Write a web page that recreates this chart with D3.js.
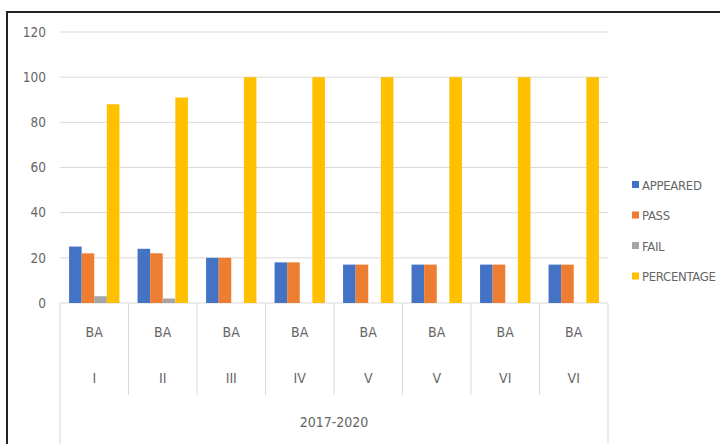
<!DOCTYPE html>
<html>
<head>
<script src="https://cdn.jsdelivr.net/npm/d3@7/dist/d3.min.js"></script>
<style>
  body { margin: 0; background: #fff; }
</style>
</head>
<body>
<div id="chart"></div>
<script>
var semesters = ["I", "II", "III", "IV", "V", "V", "VI", "VI"];
var course = "BA";
var period = "2017-2020";
var series = ["APPEARED", "PASS", "FAIL", "PERCENTAGE"];
var colors = ["#4472C4", "#ED7D31", "#A5A5A5", "#FFC000"];
var appeared = [25, 24, 20, 18, 17, 17, 17, 17];
var pass = [22, 22, 20, 18, 17, 17, 17, 17];
var fail = [3, 2, 0, 0, 0, 0, 0, 0];
var percentage = [88, 91, 100, 100, 100, 100, 100, 100];
var yTicks = [0, 20, 40, 60, 80, 100, 120];

var values = [appeared, pass, fail, percentage];
var W = 720, H = 444;
var font = "'DejaVu Sans Condensed', 'Liberation Sans Narrow', Arial, sans-serif";
var txt = "#666";

var svg = d3.select("#chart").append("svg")
  .attr("width", W).attr("height", H)
  .style("font-family", font);

// outer frame
svg.append("rect")
  .attr("x", 7).attr("y", 12)
  .attr("width", 730).attr("height", 450)
  .attr("fill", "none").attr("stroke", "#222").attr("stroke-width", 2);

var x0 = 60, x1 = 608, yTop = 32, yBase = 303;

var x = d3.scaleBand().domain(d3.range(semesters.length)).range([x0, x1]);
var xs = d3.scaleBand().domain(series).range([0, x.bandwidth()]).paddingOuter(0.72);
var y = d3.scaleLinear().domain([0, 120]).range([yBase, yTop]);

// gridlines
svg.append("g").selectAll("line").data(yTicks).join("line")
  .attr("x1", x0).attr("x2", x1)
  .attr("y1", d => y(d)).attr("y2", d => y(d))
  .attr("stroke", "#d9d9d9").attr("stroke-width", 1);

// y axis labels
var yAxis = svg.append("g").attr("transform", "translate(" + 51 + ",0)")
  .call(d3.axisLeft(y).tickValues(yTicks).tickSize(0).tickPadding(5));
yAxis.select(".domain").remove();
yAxis.selectAll("text").style("font-size", "13.5px").style("font-family", font).attr("fill", txt);

// bars
series.forEach(function(s, si) {
  svg.append("g").selectAll("rect").data(values[si]).join("rect")
    .attr("x", (d, i) => x(i) + xs(s))
    .attr("y", d => y(d))
    .attr("width", xs.bandwidth())
    .attr("height", d => yBase - y(d))
    .attr("fill", colors[si]);
});

// category separators
var seps = d3.range(semesters.length + 1);
svg.append("g").selectAll("line").data(seps).join("line")
  .attr("x1", i => i < semesters.length ? x(i) : x1)
  .attr("x2", i => i < semesters.length ? x(i) : x1)
  .attr("y1", yBase)
  .attr("y2", i => (i === 0 || i === semesters.length) ? H : 395)
  .attr("stroke", "#d9d9d9").attr("stroke-width", 1);

// multi-level labels
var lab = svg.append("g").attr("fill", txt).attr("text-anchor", "middle")
  .style("font-size", "14px");
lab.selectAll(".ba").data(semesters).join("text")
  .attr("x", (d, i) => x(i) + x.bandwidth() / 2).attr("y", 337)
  .text(course);
lab.selectAll(".sem").data(semesters).join("text")
  .attr("class", "sem")
  .attr("x", (d, i) => x(i) + x.bandwidth() / 2).attr("y", 383)
  .text(d => d);
lab.append("text").attr("x", (x0 + x1) / 2).attr("y", 427).text(period);

// legend
var lg = svg.append("g").attr("transform", "translate(632,185)");
series.forEach(function(s, i) {
  var g = lg.append("g").attr("transform", "translate(0," + (i * 30.5) + ")");
  g.append("rect").attr("x", 0).attr("y", -4).attr("width", 7).attr("height", 7)
    .attr("fill", colors[i]);
  g.append("text").attr("x", 10).attr("y", 0).attr("dy", "0.35em")
    .attr("fill", txt).style("font-size", "13px").style("letter-spacing", "-0.3px").text(s);
});
</script>
</body>
</html>
